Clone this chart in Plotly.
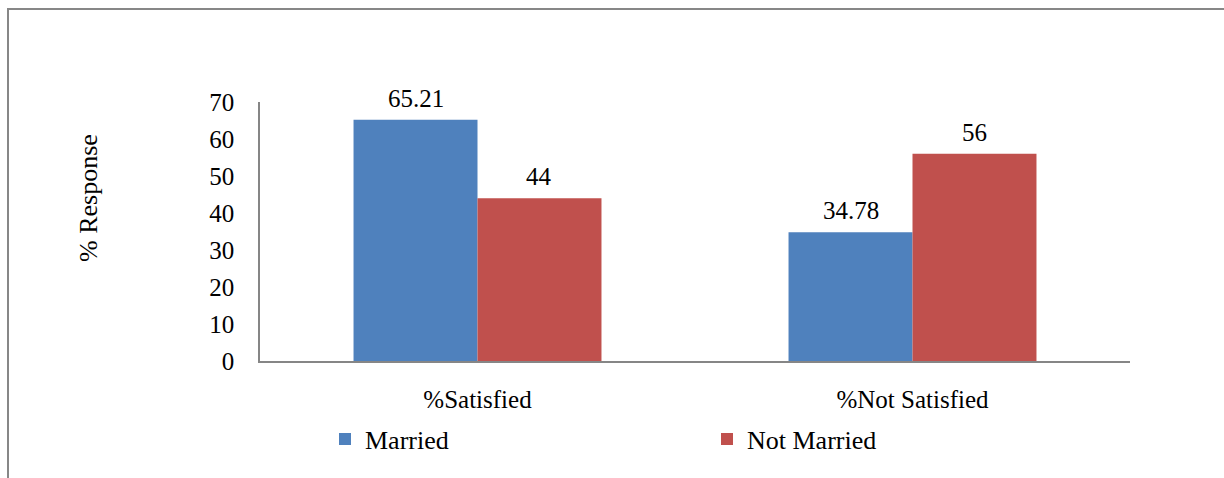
import plotly.graph_objects as go

categories = ["%Satisfied", "%Not Satisfied"]
married = [65.21, 34.78]
not_married = [44, 56]
married_labels = ["65.21", "34.78"]
not_married_labels = ["44", "56"]
y_ticks = [0, 10, 20, 30, 40, 50, 60, 70]

FONT = "Liberation Serif"
FS = 25
W, H = 1224, 478
L, R, T, B = 260, 94, 102, 117
pw, ph = W - L - R, H - T - B
BARGAP = 0.43
half_bar = pw / len(categories) * (1 - BARGAP) / 4  # half width of one bar in px

def px(x):
    return (x - L) / pw

def py(y):
    return (H - B - y) / ph

fig = go.Figure()
fig.add_trace(go.Bar(
    x=categories, y=married, name="Married", legend="legend",
    marker=dict(color="#4F81BD", line=dict(width=0)),
))
fig.add_trace(go.Bar(
    x=categories, y=not_married, name="Not Married", legend="legend2",
    marker=dict(color="#C0504D", line=dict(width=0)),
))

annotations = []
for vals, labs, sgn in [(married, married_labels, -1), (not_married, not_married_labels, 1)]:
    for c, v, t in zip(categories, vals, labs):
        annotations.append(dict(
            x=c, y=v, text=t, xref="x", yref="y", showarrow=False,
            xanchor="center", yanchor="bottom", xshift=sgn * half_bar, yshift=6,
            font=dict(family=FONT, size=FS, color="black")))
annotations.append(dict(
    text="% Response", textangle=-90, xref="paper", yref="paper",
    x=px(88), y=py(198), xanchor="center", yanchor="middle",
    showarrow=False, font=dict(family=FONT, size=26, color="black")))

fig.update_layout(
    width=W, height=H,
    margin=dict(l=L, r=R, t=T, b=B, autoexpand=False),
    paper_bgcolor="white", plot_bgcolor="white",
    barmode="group", bargap=BARGAP, bargroupgap=0,
    font=dict(family=FONT, size=FS, color="black"),
    showlegend=True,
    legend=dict(x=px(325), y=py(439), xanchor="left", yanchor="middle",
                font=dict(family=FONT, size=26, color="black"),
                bgcolor="rgba(0,0,0,0)", itemwidth=30),
    legend2=dict(x=px(707), y=py(439), xanchor="left", yanchor="middle",
                 font=dict(family=FONT, size=26, color="black"),
                 bgcolor="rgba(0,0,0,0)", itemwidth=30),
    xaxis=dict(showline=True, linecolor="#868686", linewidth=1.5,
               ticks="", showgrid=False, ticklabelstandoff=15,
               tickfont=dict(family=FONT, size=FS, color="black")),
    yaxis=dict(range=[0, 70], tickvals=y_ticks, showline=True,
               linecolor="#868686", linewidth=1.5, ticks="", showgrid=False,
               zeroline=False, ticklabelstandoff=19,
               tickfont=dict(family=FONT, size=FS, color="black")),
    annotations=annotations,
    shapes=[
        dict(type="line", xref="paper", yref="paper",
             x0=px(8), x1=px(8), y0=py(9), y1=py(478),
             line=dict(color="#878787", width=2)),
        dict(type="line", xref="paper", yref="paper",
             x0=px(7), x1=px(1224), y0=py(9), y1=py(9),
             line=dict(color="#878787", width=2)),
    ],
)

fig.write_html("out.html")
